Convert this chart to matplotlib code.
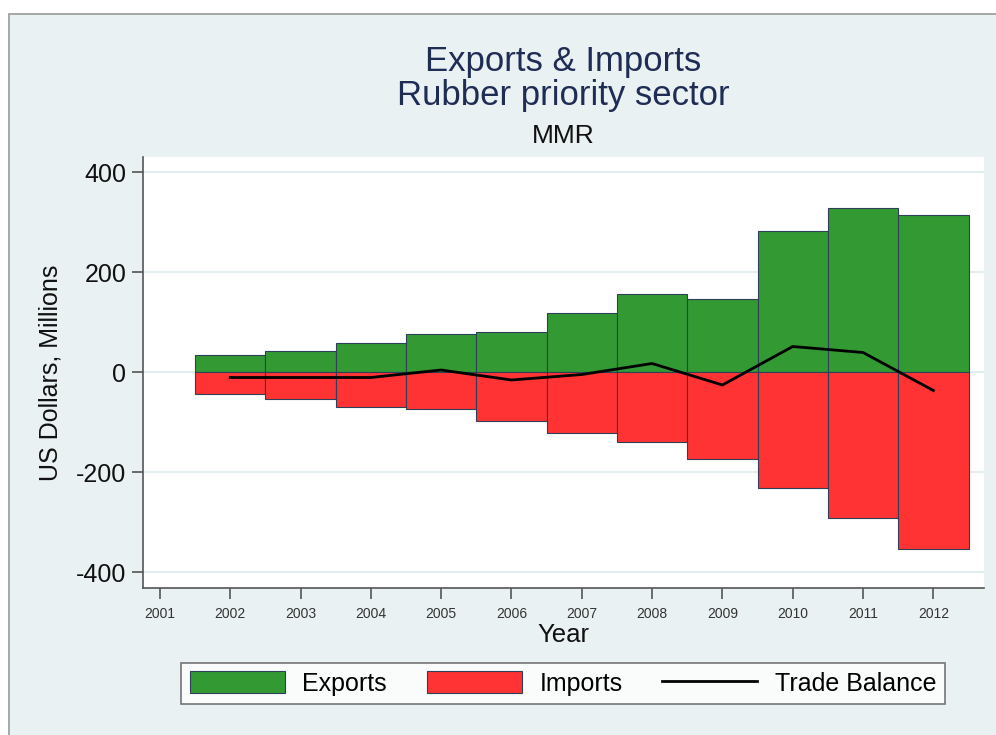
import matplotlib
matplotlib.use("Agg")
import matplotlib.pyplot as plt
from matplotlib.patches import Rectangle, Patch
from matplotlib.lines import Line2D

plt.rcParams["font.family"] = ["Liberation Sans", "DejaVu Sans"]

# Values (US$ millions)
years = [2002, 2003, 2004, 2005, 2006, 2007, 2008, 2009, 2010, 2011, 2012]
exports = [35, 42, 58, 77, 81, 119, 157, 147, 283, 329, 315]
imports = [-44, -53, -70, -74, -97, -122, -139, -173, -231, -291, -353]
balance = [-11, -11, -11, 4, -16, -5, 17, -26, 51, 39, -37]
tick_years = list(range(2001, 2013))
y_ticks = [-400, -200, 0, 200, 400]

PANEL = "#eaf1f3"
GREEN = "#339933"
RED = "#ff3333"
EDGE = "#2e4057"
NAVY = "#1f2d55"

fig = plt.figure(figsize=(9.96, 7.35), dpi=100)
fig.patch.set_facecolor("white")

# Stata-style light panel behind everything
W, H = 996, 735
fig.patches.append(Rectangle((9 / W, -0.05), 1.1, 1 - 14 / H + 0.05,
                             transform=fig.transFigure, facecolor=PANEL,
                             edgecolor="#9a9a9a", linewidth=1.2, zorder=-10))

ax = fig.add_axes([143 / W, 1 - 588 / H, (984 - 143) / W, (588 - 157) / H])
ax.set_facecolor("white")

ax.bar(years, exports, width=1.0, color=GREEN, edgecolor=EDGE, linewidth=0.8, zorder=2)
ax.bar(years, imports, width=1.0, color=RED, edgecolor=EDGE, linewidth=0.8, zorder=2)
ax.plot(years, balance, color="black", linewidth=2.0, zorder=3)

ax.set_xlim(2000.76, 2012.72)
ax.set_ylim(-432, 430)
ax.set_yticks(y_ticks)
ax.set_yticklabels([str(v) for v in y_ticks], fontsize=18, color="#111111")
ax.set_xticks(tick_years)
ax.set_xticklabels([str(v) for v in tick_years], fontsize=10, color="#333333")
ax.yaxis.grid(True, color="#e4eef0", linewidth=1.5, zorder=0)
ax.set_axisbelow(True)

for side in ["top", "right"]:
    ax.spines[side].set_visible(False)
for side in ["left", "bottom"]:
    ax.spines[side].set_color("#555555")
    ax.spines[side].set_linewidth(1.2)
ax.tick_params(axis="both", direction="out", length=8, width=1.2, color="#555555")
ax.tick_params(axis="x", pad=6)
ax.tick_params(axis="y", pad=4)

ax.set_xlabel("Year", fontsize=18.5, color="#111111", labelpad=1)
ax.set_ylabel("US Dollars, Millions", fontsize=18, color="#111111", labelpad=10)

cx = (143 + 984) / 2 / W
fig.text(cx, 1 - 61 / H, "Exports & Imports", ha="center", va="center", fontsize=25, color=NAVY)
fig.text(cx, 1 - 96 / H, "Rubber priority sector", ha="center", va="center", fontsize=25, color=NAVY)
fig.text(cx, 1 - 136 / H, "MMR", ha="center", va="center", fontsize=19, color="#111111")

handles = [Patch(facecolor=GREEN, edgecolor=EDGE, linewidth=0.8),
           Patch(facecolor=RED, edgecolor=EDGE, linewidth=0.8),
           Line2D([0], [0], color="black", linewidth=2.0)]
leg = fig.legend(handles, ["Exports", "Imports", "Trade Balance"], ncol=3,
                 loc="center", bbox_to_anchor=((179 + 947) / 2 / W, 1 - 683.5 / H),
                 fontsize=18, frameon=True, fancybox=False, handlelength=3.8,
                 handleheight=0.95, handletextpad=0.7, columnspacing=1.6,
                 borderpad=0.35)
leg.get_frame().set_edgecolor("#555555")
leg.get_frame().set_linewidth(1.2)
leg.get_frame().set_facecolor("white")

fig.savefig("out.png", dpi=100, facecolor=fig.get_facecolor())
